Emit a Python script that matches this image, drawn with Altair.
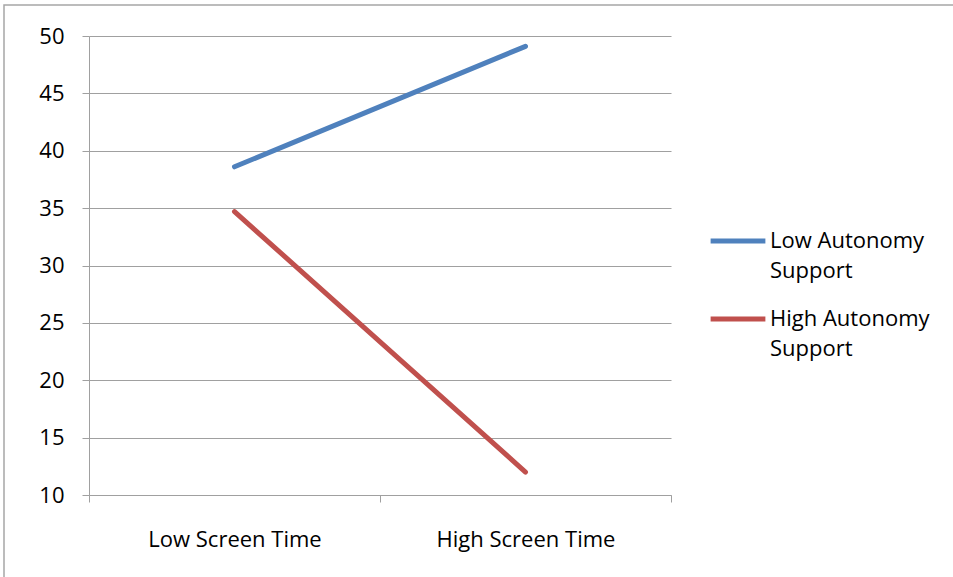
import altair as alt
import pandas as pd

# Screen time categories and the two autonomy-support series
categories = ["Low Screen Time", "High Screen Time"]
series = ["Low Autonomy Support", "High Autonomy Support"]
low_autonomy = [38.6, 49.1]
high_autonomy = [34.7, 12.0]

colors = ["#4F81BD", "#C0504D"]
grid_color = "#a0a0a0"
font = "Open Sans"
font_size = 22

rows = []
for name, vals in zip(series, [low_autonomy, high_autonomy]):
    for cat, v in zip(categories, vals):
        rows.append({"screen": cat, "group": name, "value": v})
df = pd.DataFrame(rows)

lines = alt.Chart(df).mark_line(strokeWidth=5, strokeCap="round").encode(
    x=alt.X(
        "screen:N",
        sort=categories,
        bandPosition=0.5,
        scale=alt.Scale(type="band", paddingInner=0, paddingOuter=0),
        axis=alt.Axis(
            title=None,
            labelAngle=0,
            tickBand="extent",
            domainColor=grid_color,
            tickColor=grid_color,
            tickSize=7,
            labelPadding=27,
            labelFontSize=font_size,
            labelFont=font,
            labelColor="#000000",
            grid=False,
        ),
    ),
    y=alt.Y(
        "value:Q",
        scale=alt.Scale(domain=[10, 50], nice=False, zero=False),
        axis=alt.Axis(
            title=None,
            values=list(range(10, 51, 5)),
            gridColor=grid_color,
            gridWidth=1.2,
            domainColor=grid_color,
            tickColor=grid_color,
            tickSize=7,
            labelPadding=18,
            labelFontSize=font_size,
            labelFont=font,
            labelColor="#000000",
        ),
    ),
    color=alt.Color(
        "group:N",
        sort=series,
        scale=alt.Scale(domain=series, range=colors),
        legend=alt.Legend(
            title=None,
            orient="none",
            legendX=619,
            legendY=175,
            symbolType="stroke",
            symbolSize=3000,
            symbolStrokeWidth=5,
            labelFontSize=font_size,
            labelFont=font,
            labelColor="#000000",
            labelLimit=300,
            labelOffset=2,
            rowPadding=7,
            labelExpr="[slice(datum.label, 0, lastindexof(datum.label, ' ')), 'Support']",
        ),
    ),
)

# Outer chart frame
frame = alt.Chart(alt.Data(values=[{}])).mark_rect(
    fill=None, stroke="#a6a6a6", strokeWidth=1.5
).encode(
    x=alt.value(-85), x2=alt.value(960), y=alt.value(-31), y2=alt.value(600)
)

chart = alt.layer(frame, lines).properties(
    width=582,
    height=459,
    padding={"left": 89, "top": 36, "right": 282, "bottom": 82},
    autosize=alt.AutoSizeParams(type="none"),
    background="#ffffff",
).configure(
    style={"guide-label": {"lineHeight": 30}},
).configure_view(stroke=None)

chart.save("out.html", embed_options={"renderer": "svg", "actions": False})
